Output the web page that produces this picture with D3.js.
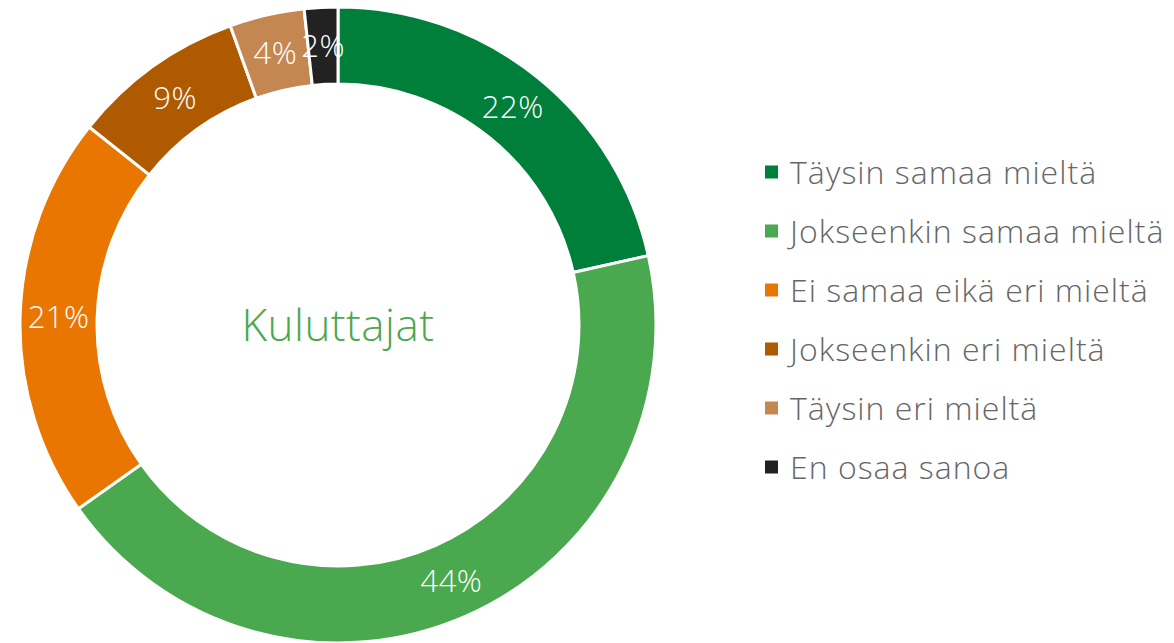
<!DOCTYPE html>
<html>
<head>
<meta charset="utf-8">
<script src="https://cdn.jsdelivr.net/npm/d3@7"></script>
<style>
body { margin: 0; background: #fff; }
text { font-family: "Open Sans", Lato, sans-serif; font-weight: 300; }
</style>
</head>
<body>
<svg></svg>
<script>
var categories = ['Täysin samaa mieltä', 'Jokseenkin samaa mieltä', 'Ei samaa eikä eri mieltä', 'Jokseenkin eri mieltä', 'Täysin eri mieltä', 'En osaa sanoa']
var values = [21.5, 43.7, 20.5, 8.8, 3.8, 1.7]
var labels = ['22%', '44%', '21%', '9%', '4%', '2%']
var colors = ['#007f3b', '#4aa84e', '#e97600', '#b05a00', '#c48752', '#222222']
var title = 'Kuluttajat'

var width = 1174
var height = 643

var svg = d3.select('svg')
svg.attr('width', width).attr('height', height)

var cx = 338, cy = 325
var outerR = 318, innerR = 241

var pie = d3.pie().sort(null).value(function(d) {return d})
var arc = d3.arc().innerRadius(innerR).outerRadius(outerR)

var ring = svg.append('g').attr('transform', 'translate(' + cx + ',' + cy + ')')

var slices = pie(values)

ring.selectAll('path')
	.data(slices)
	.enter().append('path')
	.attr('d', arc)
	.attr('fill', function(d, i) {return colors[i]})
	.attr('stroke', '#fff')
	.attr('stroke-width', 3)

ring.selectAll('text.pct')
	.data(slices)
	.enter().append('text')
	.attr('class', 'pct')
	.attr('transform', function(d) {return 'translate(' + arc.centroid(d) + ')'})
	.attr('text-anchor', 'middle')
	.attr('dy', '0.36em')
	.attr('fill', '#fff')
	.style('font-size', '31px')
	.style('letter-spacing', '0.5px')
	.text(function(d, i) {return labels[i]})

ring.append('text')
	.attr('text-anchor', 'middle')
	.attr('dy', '0.36em')
	.attr('fill', '#4aa84e')
	.style('font-size', '44px')
	.style('letter-spacing', '0.5px')
	.text(title)

// legend
var legend = svg.append('g').attr('transform', 'translate(765,172)')
var rowY = d3.scaleBand().domain(categories).range([-29.5, 324.5])

var item = legend.selectAll('g')
	.data(categories)
	.enter().append('g')
	.attr('transform', function(d) {return 'translate(0,' + (rowY(d) + rowY.bandwidth() / 2) + ')'})

item.append('rect')
	.attr('x', 0).attr('y', -6.5)
	.attr('width', 13).attr('height', 13)
	.attr('fill', function(d, i) {return colors[i]})

item.append('text')
	.attr('x', 25)
	.attr('dy', '0.36em')
	.attr('fill', '#666')
	.style('font-size', '32px')
	.style('letter-spacing', '1px')
	.text(function(d) {return d})
</script>
</body>
</html>
